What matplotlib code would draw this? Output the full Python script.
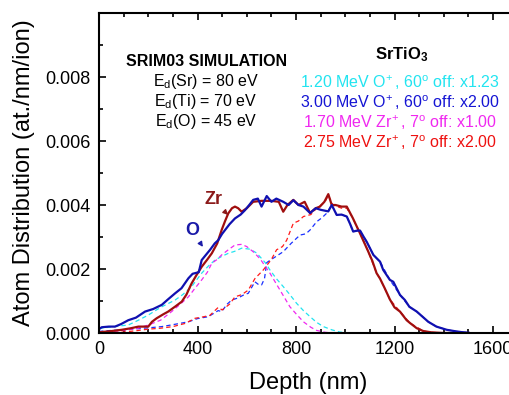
import matplotlib
matplotlib.use("Agg")
import matplotlib.pyplot as plt
from matplotlib.ticker import MultipleLocator, FixedLocator, FormatStrFormatter

plt.rcParams['font.family'] = ['Liberation Sans', 'DejaVu Sans']
plt.rcParams['mathtext.fontset'] = 'custom'
plt.rcParams['mathtext.rm'] = 'Liberation Sans'
plt.rcParams['mathtext.it'] = 'Liberation Sans:italic'
plt.rcParams['mathtext.bf'] = 'Liberation Sans:bold'

# SRIM depth profiles (depth in nm, atoms/nm/ion)
o_total_depth = [0, 11, 40, 65, 90, 119, 150, 187, 220, 255, 280, 309, 335, 363, 380, 390, 405, 417,
                 435, 451, 470, 484, 500, 512, 530, 552, 575, 593, 610, 626, 645, 660, 681, 700, 720,
                 748, 770, 789, 810, 830, 857, 880, 900, 931, 945, 965, 985, 1006, 1020, 1032, 1048,
                 1060, 1075, 1087, 1114, 1141, 1154, 1181, 1195, 1222, 1242, 1260, 1290, 1315, 1337,
                 1370, 1412, 1450, 1480, 1500]
o_total = [0.00012, 0.00018, 0.0002, 0.0002, 0.00028, 0.0004, 0.00048, 0.00067, 0.00075, 0.00088,
           0.00105, 0.00124, 0.0014, 0.00171, 0.00185, 0.00187, 0.0019, 0.00228, 0.00245, 0.0026,
           0.0028, 0.0029, 0.0031, 0.00322, 0.0034, 0.00358, 0.0037, 0.00384, 0.004, 0.00416, 0.0042,
           0.00395, 0.00428, 0.0041, 0.0042, 0.0041, 0.0040, 0.00415, 0.0040, 0.00395, 0.00375,
           0.0039, 0.00385, 0.0038, 0.0040, 0.00369, 0.0037, 0.00364, 0.0034, 0.00317, 0.0032,
           0.0032, 0.003, 0.00285, 0.00244, 0.00223, 0.00197, 0.00166, 0.0016, 0.00119, 0.00103,
           0.00082, 0.00067, 0.0005, 0.00035, 0.0002, 0.0001, 0.00005, 0.00002, 0.00001]

zr_total_depth = [0, 11, 50, 92, 130, 160, 200, 215, 234, 260, 281, 310, 336, 355, 376, 395, 417, 440,
                  458, 480, 498, 512, 525, 540, 552, 565, 579, 600, 626, 660, 700, 730, 748, 765, 789,
                  810, 835, 857, 880, 897, 915, 931, 945, 960, 985, 1006, 1030, 1060, 1090, 1110,
                  1127, 1141, 1160, 1181, 1200, 1222, 1249, 1263, 1290, 1317, 1350, 1400, 1450, 1500]
zr_total = [0.00002, 0.00003, 0.00006, 0.0001, 0.00015, 0.0002, 0.0002, 0.00035, 0.00046, 0.00058,
            0.00067, 0.00083, 0.00098, 0.0012, 0.00155, 0.0018, 0.00207, 0.0023, 0.00249, 0.0028,
            0.00322, 0.0035, 0.00374, 0.0039, 0.00395, 0.0039, 0.00379, 0.0039, 0.0041, 0.00413,
            0.00413, 0.0041, 0.00379, 0.004, 0.00416, 0.0040, 0.0041, 0.00375, 0.0039, 0.00395,
            0.0041, 0.00434, 0.0040, 0.0040, 0.00395, 0.00395, 0.0036, 0.00311, 0.0026, 0.00225,
            0.00187, 0.0017, 0.0014, 0.00105, 0.0008, 0.00067, 0.0004, 0.00031, 0.00015, 0.00006,
            0.00002, 0.0, 0.0, 0.0]

o120_depth = [0, 11, 60, 119, 160, 200, 250, 309, 340, 376, 417, 445, 471, 500, 525, 550, 579, 613,
              640, 654, 675, 694, 720, 748, 775, 802, 830, 857, 884, 911, 945, 978, 1020, 1100, 1200,
              1300, 1400, 1500]
o120 = [0.00015, 0.00015, 0.0002, 0.00025, 0.0004, 0.00056, 0.0008, 0.00103, 0.0012, 0.00145,
        0.00187, 0.0021, 0.00228, 0.0024, 0.00249, 0.00255, 0.00265, 0.00262, 0.0025, 0.00238,
        0.0022, 0.00197, 0.0017, 0.00145, 0.0012, 0.00093, 0.0007, 0.00051, 0.00033, 0.0002,
        0.0001, 0.00003, 0.0, 0.0, 0.0, 0.0, 0.0, 0.0]

o300_depth = [0, 50, 100, 150, 200, 255, 300, 363, 400, 444, 484, 498, 520, 539, 566, 590, 606, 633,
              650, 660, 672, 681, 700, 720, 748, 780, 816, 840, 857, 884, 905, 924, 945, 965, 985,
              1006, 1032, 1060, 1087, 1114, 1141, 1181, 1222, 1260, 1290, 1337, 1370, 1412, 1450, 1500]
o300 = [0.00005, 0.00008, 0.0001, 0.00013, 0.00016, 0.0002, 0.00026, 0.00035, 0.00045, 0.00051,
        0.0007, 0.00067, 0.0009, 0.00103, 0.0011, 0.0012, 0.00124, 0.0016, 0.0015, 0.0015, 0.0017,
        0.0022, 0.0023, 0.0024, 0.00254, 0.0028, 0.00306, 0.0031, 0.00322, 0.00348, 0.0036,
        0.00374, 0.004, 0.00369, 0.0037, 0.00364, 0.00317, 0.0032, 0.00285, 0.00244, 0.00223,
        0.00166, 0.00119, 0.00082, 0.00067, 0.00035, 0.0002, 0.0001, 0.00005, 0.00001]

zr170_depth = [0, 11, 60, 119, 160, 200, 250, 295, 330, 363, 390, 417, 440, 458, 480, 498, 525, 552,
               579, 600, 626, 654, 694, 735, 775, 800, 830, 860, 884, 920, 960, 1000, 1100, 1200,
               1300, 1400, 1500]
zr170 = [0.00002, 0.00003, 0.00005, 0.0001, 0.00015, 0.00025, 0.0004, 0.00067, 0.0009, 0.00113,
         0.0014, 0.00166, 0.0019, 0.00218, 0.0023, 0.00244, 0.0026, 0.00275, 0.00277, 0.0027,
         0.00254, 0.00232, 0.00187, 0.00134, 0.00082, 0.0006, 0.00035, 0.00018, 0.00008, 0.00002,
         0.0, 0.0, 0.0, 0.0, 0.0, 0.0, 0.0]

zr275_depth = [0, 50, 100, 150, 200, 250, 300, 350, 390, 420, 450, 484, 500, 530, 552, 580, 606, 633,
               667, 700, 721, 745, 762, 789, 810, 830, 860, 884, 918, 931, 950, 985, 1006, 1030, 1060,
               1090, 1127, 1141, 1181, 1222, 1263, 1317, 1350, 1400, 1450, 1500]
zr275 = [0.0, 0.00001, 0.00003, 0.00007, 0.00012, 0.00015, 0.0002, 0.0003, 0.00046, 0.0005, 0.00055,
         0.0008, 0.00072, 0.0009, 0.00113, 0.0012, 0.00134, 0.0017, 0.00197, 0.0023, 0.0026, 0.0027,
         0.0029, 0.00343, 0.0035, 0.00364, 0.0037, 0.0039, 0.0041, 0.0043, 0.004, 0.0039, 0.0039,
         0.0036, 0.00311, 0.0026, 0.00187, 0.0017, 0.00105, 0.00067, 0.00031, 0.00006, 0.00002,
         0.0, 0.0, 0.0]

legend_lines = [r"1.20 MeV O$^{\!+}$, 60$^{\mathrm{o}}$ off: x1.23",
                r"3.00 MeV O$^{\!+}$, 60$^{\mathrm{o}}$ off: x2.00",
                r"1.70 MeV Zr$^{\!+}$, 7$^{\mathrm{o}}$ off: x1.00",
                r"2.75 MeV Zr$^{\!+}$, 7$^{\mathrm{o}}$ off: x2.00"]
legend_colors = ['#22e4f0', '#1414d4', '#f028f0', '#ee1010']
ed_lines = [r"E$_\mathrm{d}$(Sr) = 80 eV", r"E$_\mathrm{d}$(Ti) = 70 eV", r"E$_\mathrm{d}$(O) = 45 eV"]

fig = plt.figure(figsize=(5.09, 3.95), dpi=100)
ax = fig.add_axes([99 / 509, 62 / 395, 418.7 / 509, 320 / 395])

dash = dict(lw=0.9, ls=(0, (3.5, 2.5)))
ax.plot(o120_depth, o120, color='#22e4f0', **dash)
ax.plot(o300_depth, o300, color='#1a30ff', **dash)
ax.plot(zr170_depth, zr170, color='#f028f0', **dash)
ax.plot(zr275_depth, zr275, color='#ff1a1a', **dash)
ax.plot(zr_total_depth, zr_total, color='#a00e0e', lw=1.6)
ax.plot(o_total_depth, o_total, color='#1010b0', lw=1.6)

ax.set_xlim(0, 1700)
ax.set_ylim(0, 0.0100)
ax.xaxis.set_major_locator(MultipleLocator(400))
ax.xaxis.set_minor_locator(MultipleLocator(100))
ax.yaxis.set_major_locator(FixedLocator([0, 0.002, 0.004, 0.006, 0.008]))
ax.yaxis.set_minor_locator(MultipleLocator(0.001))
ax.yaxis.set_major_formatter(FormatStrFormatter('%.3f'))
ax.tick_params(which='both', direction='in', top=True, right=True, width=1.2, labelsize=13)
ax.tick_params(which='major', length=5, pad=6)
ax.tick_params(which='minor', length=3)
for s in ax.spines.values():
    s.set_linewidth(1.5)

ax.set_xlabel("Depth (nm)", fontsize=17)
ax.set_ylabel("Atom Distribution (at./nm/ion)", fontsize=17)
ax.xaxis.set_label_coords(0.5, -0.122)
ax.yaxis.set_label_coords(-0.152, 0.5)

ax.text(0.256, 0.85, "SRIM03 SIMULATION", transform=ax.transAxes, ha='center', va='center',
        fontsize=11.5, fontweight='bold')
for i, t in enumerate(ed_lines):
    ax.text(0.256, 0.785 - 0.0625 * i, t, transform=ax.transAxes, ha='center', va='center', fontsize=11.5)

ax.text(0.724, 0.869, r"SrTiO$_\mathbf{3}$", transform=ax.transAxes, ha='center', va='center',
        fontsize=12, fontweight='bold')
for i, (t, c) in enumerate(zip(legend_lines, legend_colors)):
    ax.text(0.719, 0.781 - 0.0625 * i, t, transform=ax.transAxes, ha='center', va='center',
            fontsize=11.5, color=c)

ax.annotate("Zr", xy=(524, 0.00369), xytext=(463, 0.00416), color='#8b1a1a', fontsize=13,
            fontweight='bold', ha='center', va='center',
            arrowprops=dict(arrowstyle='-|>', color='#8b1a1a', lw=1, mutation_scale=7, shrinkA=2, shrinkB=0))
ax.annotate("O", xy=(422, 0.00269), xytext=(378, 0.00319), color='#1a1aa8', fontsize=13,
            fontweight='bold', ha='center', va='center',
            arrowprops=dict(arrowstyle='-|>', color='#1a1aa8', lw=1, mutation_scale=7, shrinkA=2, shrinkB=0))

fig.savefig("out.png", dpi=100)
